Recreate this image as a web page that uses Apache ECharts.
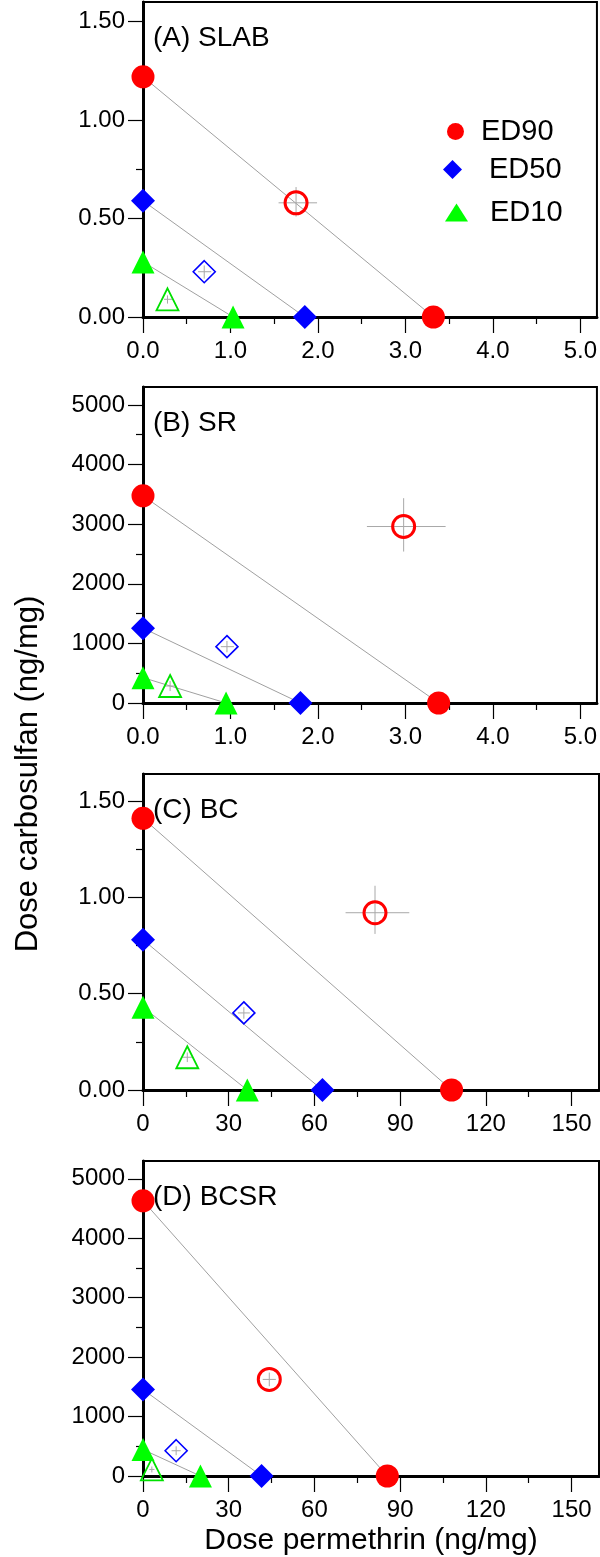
<!DOCTYPE html>
<html>
<head>
<meta charset="utf-8">
<script src="https://cdn.jsdelivr.net/npm/echarts@6/dist/echarts.min.js"></script>
<style>
  html, body { margin: 0; padding: 0; background: #fff; }
  #chart { width: 600px; height: 1557px; }
</style>
</head>
<body>
<div id="chart"></div>
<script>
const panelNames = ['(A) SLAB', '(B) SR', '(C) BC', '(D) BCSR'];

// doses of each compound alone (isobole end points), one per panel
const ed90Carbo = [1.22, 3475, 1.41, 4630];
const ed90Perm = [3.32, 3.38, 108, 85.5];
const ed50Carbo = [0.59, 1255, 0.78, 1455];
const ed50Perm = [1.85, 1.80, 62.8, 41.5];
const ed10Carbo = [0.28, 425, 0.43, 445];
const ed10Perm = [1.03, 0.95, 36.5, 20.1];

// mixture doses [permethrin, carbosulfan]
const ed90Mix = [[1.75, 0.58], [2.98, 2960], [81.2, 0.92], [44.2, 1625]];
const ed50Mix = [[0.70, 0.23], [0.96, 945], [35.3, 0.40], [11.6, 425]];
const ed10Mix = [[0.28, 0.09], [0.31, 285], [15.5, 0.17], [3.1, 110]];

// error ranges of the mixtures [permLow, permHigh, carboLow, carboHigh]
const ed90Err = [[1.55, 1.99, 0.51, 0.66], [2.56, 3.46, 2540, 3435], [70.9, 93.2, 0.81, 1.06], [41.9, 46.5, 1510, 1740]];
const ed50Err = [[0.63, 0.78, 0.195, 0.262], [0.89, 1.04, 850, 1040], [33.2, 37.4, 0.37, 0.43], [10.0, 13.2, 350, 500]];
const ed10Err = [[0.24, 0.34, 0.068, 0.11], [0.25, 0.37, 200, 370], [13.8, 17.2, 0.145, 0.195], [2.2, 4.0, 60, 160]];

// axes
const xMax = [5.19, 5.19, 159.6, 159.6];
const yMax = [1.6, 5300, 1.64, 5300];
const xTicks = [[0, 1, 2, 3, 4, 5], [0, 1, 2, 3, 4, 5], [0, 30, 60, 90, 120, 150], [0, 30, 60, 90, 120, 150]];
const xMinorTicks = [[0.5, 1.5, 2.5, 3.5, 4.5], [0.5, 1.5, 2.5, 3.5, 4.5], [15, 45, 75, 105, 135], [15, 45, 75, 105, 135]];
const yTicks = [[0, 0.5, 1, 1.5], [0, 1000, 2000, 3000, 4000, 5000], [0, 0.5, 1, 1.5], [0, 1000, 2000, 3000, 4000, 5000]];
const yMinorTicks = [[0.25, 0.75, 1.25], [500, 1500, 2500, 3500, 4500], [0.25, 0.75, 1.25], [500, 1500, 2500, 3500, 4500]];
const xDecimals = [1, 1, 0, 0];
const yDecimals = [2, 0, 2, 0];

const font = '"Liberation Sans", Arial, sans-serif';
const gridTop = [2, 387, 774, 1161];
const gridHeight = [315, 316, 316, 316];
const labelCenter = [38, 423, 810, 1197];

let grids = [], xAxes = [], yAxes = [], series = [];

function errorBars(params, api) {
  const x = api.value(0), y = api.value(1);
  const l = api.coord([api.value(2), y]);
  const r = api.coord([api.value(3), y]);
  const b = api.coord([x, api.value(4)]);
  const t = api.coord([x, api.value(5)]);
  const st = { stroke: '#a8a8a8', lineWidth: 1 };
  return {
    type: 'group',
    children: [
      { type: 'line', shape: { x1: l[0], y1: l[1], x2: r[0], y2: r[1] }, style: st },
      { type: 'line', shape: { x1: b[0], y1: b[1], x2: t[0], y2: t[1] }, style: st }
    ]
  };
}

panelNames.forEach((p, i) => {
  grids.push({
    left: 143, width: 456, top: gridTop[i], height: gridHeight[i],
    show: true, borderColor: '#000', borderWidth: 2, backgroundColor: 'transparent'
  });
  const last = i === panelNames.length - 1;
  xAxes.push({
    type: 'value', gridIndex: i, min: 0, max: xMax[i], position: 'bottom',
    name: last ? 'Dose permethrin (ng/mg)' : '',
    nameLocation: 'middle', nameGap: 50,
    nameTextStyle: { fontSize: 30, fontFamily: font, color: '#000' },
    axisLine: { onZero: false, lineStyle: { color: '#000', width: 3 } },
    axisTick: { customValues: xTicks[i], length: 16, lineStyle: { color: '#000', width: 1.2 } },
    axisLabel: {
      customValues: xTicks[i], margin: 22, fontSize: 24, fontFamily: font, color: '#000',
      formatter: v => Number(v).toFixed(xDecimals[i])
    },
    splitLine: { show: false }
  });
  xAxes.push({
    type: 'value', gridIndex: i, min: 0, max: xMax[i], position: 'bottom',
    axisLine: { show: false, onZero: false },
    axisTick: { customValues: xMinorTicks[i], length: 7, lineStyle: { color: '#000', width: 1.2 } },
    axisLabel: { show: false },
    splitLine: { show: false }
  });
  yAxes.push({
    type: 'value', gridIndex: i, min: 0, max: yMax[i], position: 'left',
    axisLine: { show: true, onZero: false, lineStyle: { color: '#000', width: 3 } },
    axisTick: { customValues: yTicks[i], length: 15, lineStyle: { color: '#000', width: 1.2 } },
    axisLabel: {
      customValues: yTicks[i], margin: 18, fontSize: 24, fontFamily: font, color: '#000',
      formatter: v => Number(v).toFixed(yDecimals[i])
    },
    splitLine: { show: false }
  });
  yAxes.push({
    type: 'value', gridIndex: i, min: 0, max: yMax[i], position: 'left',
    axisLine: { show: false, onZero: false },
    axisTick: { customValues: yMinorTicks[i], length: 7, lineStyle: { color: '#000', width: 1.2 } },
    axisLabel: { show: false },
    splitLine: { show: false }
  });

  const ax = { xAxisIndex: 2 * i, yAxisIndex: 2 * i };
  const isoboles = [
    [ed90Carbo[i], ed90Perm[i]],
    [ed50Carbo[i], ed50Perm[i]],
    [ed10Carbo[i], ed10Perm[i]]
  ];
  isoboles.forEach(([c, pm]) => {
    series.push(Object.assign({
      type: 'line', silent: true, symbol: 'none', z: 1,
      data: [[0, c], [pm, 0]],
      lineStyle: { color: '#a0a0a0', width: 1 }
    }, ax));
  });

  series.push(Object.assign({
    type: 'custom', z: 2, silent: true, renderItem: errorBars,
    encode: { x: 0, y: 1 },
    data: [
      ed90Mix[i].concat(ed90Err[i]),
      ed50Mix[i].concat(ed50Err[i]),
      ed10Mix[i].concat(ed10Err[i])
    ]
  }, ax));

  // open markers: mixtures
  series.push(Object.assign({
    name: 'ED90 mix', type: 'scatter', symbol: 'circle', symbolSize: 22, z: 3,
    data: [ed90Mix[i]],
    itemStyle: { color: 'rgba(0,0,0,0)', borderColor: '#ff0000', borderWidth: 3, opacity: 1 }
  }, ax));
  series.push(Object.assign({
    name: 'ED50 mix', type: 'scatter', symbol: 'diamond', symbolSize: 22, z: 3,
    data: [ed50Mix[i]],
    itemStyle: { color: 'rgba(0,0,0,0)', borderColor: '#0000ff', borderWidth: 1.6, opacity: 1 }
  }, ax));
  series.push(Object.assign({
    name: 'ED10 mix', type: 'scatter', symbol: 'triangle', symbolSize: 22, z: 3,
    data: [ed10Mix[i]],
    itemStyle: { color: 'rgba(0,0,0,0)', borderColor: '#00e000', borderWidth: 1.8, opacity: 1 }
  }, ax));

  // filled markers: single compounds
  series.push(Object.assign({
    name: 'ED90', type: 'scatter', symbol: 'circle', symbolSize: 23, z: 4, clip: false,
    data: [[0, ed90Carbo[i]], [ed90Perm[i], 0]],
    itemStyle: { color: '#ff0000', opacity: 1 }
  }, ax));
  series.push(Object.assign({
    name: 'ED50', type: 'scatter', symbol: 'diamond', symbolSize: 24, z: 4, clip: false,
    data: [[0, ed50Carbo[i]], [ed50Perm[i], 0]],
    itemStyle: { color: '#0000ff', opacity: 1 }
  }, ax));
  series.push(Object.assign({
    name: 'ED10', type: 'scatter', symbol: 'triangle', symbolSize: 23, z: 4, clip: false,
    data: [[0, ed10Carbo[i]], [ed10Perm[i], 0]],
    itemStyle: { color: '#00ff00', opacity: 1 }
  }, ax));
});

function legendItem(name, icon, left, top, w, h, pad) {
  return {
    data: [{ name: name, icon: icon }], left: left, top: top, padding: 0,
    itemWidth: w, itemHeight: h, selectedMode: false,
    textStyle: { fontSize: 29, fontFamily: font, color: '#000', lineHeight: 28, padding: [0, 0, 0, pad] }
  };
}

const option = {
  animation: false,
  backgroundColor: '#fff',
  title: panelNames.map((t, i) => ({
    text: t, left: 153, top: labelCenter[i] - 14, padding: 0,
    textStyle: { fontSize: 28, fontWeight: 'normal', fontFamily: font, color: '#000', lineHeight: 28 }
  })),
  legend: [
    legendItem('ED90', 'circle', 447, 117, 17, 17, 12),
    legendItem('ED50', 'diamond', 443, 155, 19, 19, 22),
    legendItem('ED10', 'triangle', 445, 198, 23, 18, 17)
  ],
  grid: grids,
  xAxis: xAxes,
  yAxis: yAxes,
  graphic: [{
    type: 'text', x: 28, y: 774, rotation: Math.PI / 2,
    style: {
      text: 'Dose carbosulfan (ng/mg)', font: '31px ' + font, fill: '#000',
      align: 'center', verticalAlign: 'middle'
    }
  }],
  series: series
};

const chart = echarts.init(document.getElementById('chart'));
chart.setOption(option);
</script>
</body>
</html>
